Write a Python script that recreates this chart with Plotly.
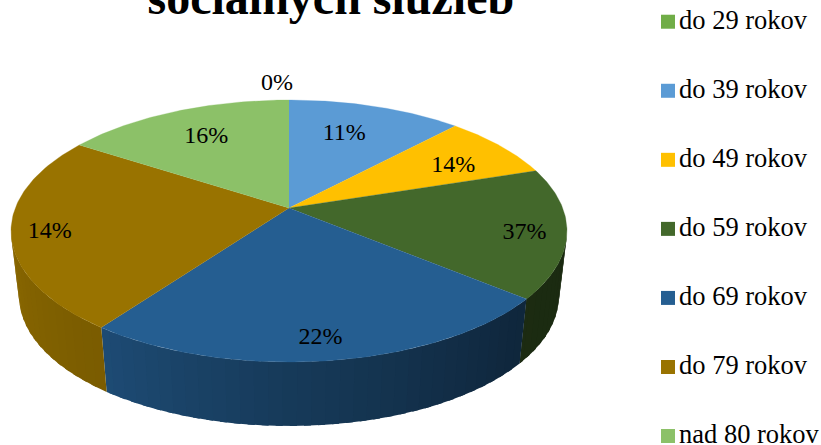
import numpy as np
import plotly.graph_objects as go

age_groups = ["do 29 rokov", "do 39 rokov", "do 49 rokov", "do 59 rokov", "do 69 rokov", "do 79 rokov", "nad 80 rokov"]
# printed labels do not agree with the slice sizes in the source picture, so both are kept
percent_labels = ["0%", "11%", "14%", "37%", "22%", "14%", "16%"]
slice_share = [0.0, 10.2, 7.2, 16.3, 28.1, 24.6, 13.6]
colors = ["#70ad47", "#5b9bd5", "#ffc000", "#43682b", "#255e91", "#997300", "#8cc168"]

# label nudges (px, down is positive) from the spot 70% of the way out along each slice
label_dx = [-12, -6, 16, 41, 4, -45, -2]
label_dy = [-48, -3, 1, 6, 23, 3, -4]

# pie geometry in pixels
apex = (289, 208)
top = dict(cx=289, cy=231, rx=278, ry=131)
bottom = dict(cx=289, cy=296, rx=270, ry=130)


def rim(t, e):
    t = np.radians(t)
    return e["cx"] + e["rx"] * np.sin(t), e["cy"] - e["ry"] * np.cos(t)


def shade(hex_color, k):
    r, g, b = [int(hex_color[i:i + 2], 16) for i in (1, 3, 5)]
    return "rgb(%d,%d,%d)" % (r * k, g * k, b * k)


edges = np.concatenate([[0], np.cumsum(slice_share)]) / sum(slice_share) * 360

fig = go.Figure()

# side wall, only the front half shows; darker towards the right
for i, col in enumerate(colors):
    a0, a1 = max(edges[i], 90), min(edges[i + 1], 270)
    if a1 <= a0:
        continue
    for s in np.arange(a0, a1, 3.0):
        # each band runs a little under the next one so no seams show
        e = min(s + 4.5, a1)
        seg = np.linspace(s, e, 4)
        xt, yt = rim(seg, top)
        xb, yb = rim(seg[::-1], bottom)
        k = np.interp(s + 1.5, [90, 125, 180, 222, 270], [0.41, 0.42, 0.62, 0.8, 0.9])
        c = shade(col, k)
        fig.add_trace(go.Scatter(x=np.r_[xt, xb], y=np.r_[yt, yb], mode="lines", fill="toself", fillcolor=c,
                                 line=dict(width=0), showlegend=False, hoverinfo="skip"))

# top face
for i, col in enumerate(colors):
    if slice_share[i] == 0:
        continue
    seg = np.linspace(edges[i], edges[i + 1], 80)
    xt, yt = rim(seg, top)
    fig.add_trace(go.Scatter(x=np.r_[apex[0], xt], y=np.r_[apex[1], yt], mode="lines", fill="toself", fillcolor=col,
                             line=dict(color=col, width=0.3), showlegend=False, name=age_groups[i], hoverinfo="name"))

# percent labels
mid = (edges[:-1] + edges[1:]) / 2
rx, ry = rim(mid, top)
lx = apex[0] + 0.7 * (rx - apex[0]) + np.array(label_dx)
ly = apex[1] + 0.7 * (ry - apex[1]) + np.array(label_dy)
fig.add_trace(go.Scatter(x=lx, y=ly, mode="text", text=percent_labels, showlegend=False, hoverinfo="skip",
                         textfont=dict(family="Liberation Serif", size=24, color="#000000")))

# legend entries
for i, col in enumerate(colors):
    fig.add_trace(go.Scatter(x=[None], y=[None], mode="markers", name=age_groups[i], legendgroup=age_groups[i],
                             marker=dict(symbol="square", size=14, color=col, line=dict(width=0))))

fig.update_layout(
    width=821, height=445, margin=dict(l=0, r=0, t=0, b=0, autoexpand=False),
    paper_bgcolor="white", plot_bgcolor="white",
    title=dict(text="<b>sociálnych služieb</b>", x=0.403, xanchor="center", y=1 - 14 / 445, yanchor="bottom",
               font=dict(family="Liberation Serif", size=48, color="#000000")),
    xaxis=dict(range=[0, 821], visible=False, fixedrange=True),
    yaxis=dict(range=[445, 0], visible=False, fixedrange=True),
    legend=dict(x=639 / 821, xanchor="left", y=1 + 5 / 445, yanchor="top", tracegroupgap=31.6, bgcolor="rgba(0,0,0,0)",
                maxheight=600,
                font=dict(family="Liberation Serif", size=26.5, color="#000000")),
    showlegend=True,
)

# plotly keeps a wide gap between swatch and text, so the swatches are pushed right after drawing
fig.write_html("out.html", config=dict(displayModeBar=False),
               post_script="document.body.style.margin='0';"
                           "document.querySelectorAll('.legendsymbols').forEach(g=>g.setAttribute('transform','translate(9,3)'));")
